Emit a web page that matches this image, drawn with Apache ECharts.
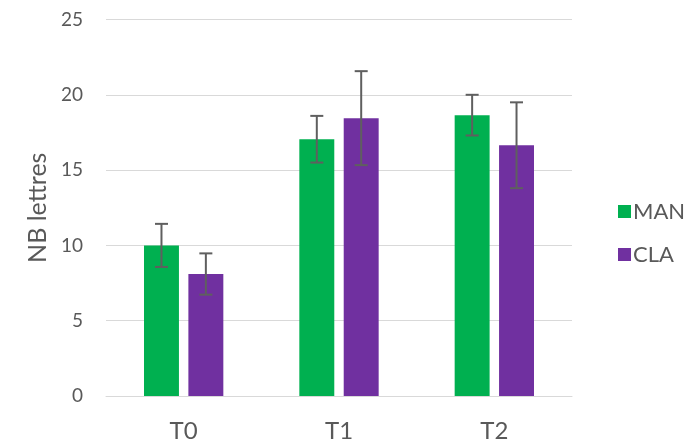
<!DOCTYPE html>
<html><head><meta charset="utf-8">
<script src="https://cdn.jsdelivr.net/npm/echarts@6/dist/echarts.min.js"></script>
<style>html,body{margin:0;padding:0;background:#fff}#c{width:693px;height:446px}</style>
</head><body><div id="c"></div>
<script>
var categories = ['T0', 'T1', 'T2'];
var manValues = [10.0, 17.05, 18.65];
var manErr = [1.43, 1.55, 1.35];
var claValues = [8.1, 18.45, 16.65];
var claErr = [1.37, 3.12, 2.85];
var yTicks = [0, 5, 10, 15, 20, 25];

var FONT = 'Lato';
var TXT = '#595959';
var BAR_W = 0.225, GAP = 0.27;

function errSeries(vals, errs, sign) {
  var data = vals.map(function (v, i) { return [i, v - errs[i], v + errs[i]]; });
  return {
    type: 'custom', silent: true, z: 10,
    data: data,
    encode: { x: 0, y: [1, 2] },
    renderItem: function (params, api) {
      var band = api.size([1, 0])[0];
      var off = sign * band * (BAR_W + BAR_W * GAP) / 2;
      var lo = api.coord([api.value(0), api.value(1)]);
      var hi = api.coord([api.value(0), api.value(2)]);
      var x = lo[0] + off, hw = 6.5;
      var st = { stroke: '#5f5f5f', lineWidth: 2 };
      return { type: 'group', children: [
        { type: 'line', shape: { x1: x, y1: lo[1], x2: x, y2: hi[1] }, style: st },
        { type: 'line', shape: { x1: x - hw, y1: lo[1], x2: x + hw, y2: lo[1] }, style: st },
        { type: 'line', shape: { x1: x - hw, y1: hi[1], x2: x + hw, y2: hi[1] }, style: st }
      ]};
    }
  };
}

var chart = echarts.init(document.getElementById('c'), null, { renderer: 'canvas' });
chart.setOption({
  animation: false,
  textStyle: { fontFamily: FONT },
  grid: { left: 106, right: 121, top: 19.5, bottom: 50, containLabel: false },
  legend: {
    orient: 'vertical', left: 613, top: 195.5,
    itemWidth: 13, itemHeight: 13, itemGap: 21,
    icon: 'rect',
    textStyle: { fontFamily: FONT, fontSize: 22, color: TXT, padding: [0, 0, 0, -3] },
    data: ['MAN', 'CLA']
  },
  xAxis: {
    type: 'category', data: categories,
    axisLine: { lineStyle: { color: '#d9d9d9', width: 1 } },
    axisTick: { show: false },
    axisLabel: { fontFamily: FONT, fontSize: 24, color: TXT, margin: 23 }
  },
  yAxis: {
    type: 'value', min: yTicks[0], max: yTicks[yTicks.length - 1], interval: 5,
    name: 'NB lettres', nameLocation: 'middle', nameGap: 56, nameRotate: 90,
    nameTextStyle: { fontFamily: FONT, fontSize: 25, color: TXT },
    axisLine: { show: false }, axisTick: { show: false },
    axisLabel: { fontFamily: FONT, fontSize: 19, color: TXT, margin: 23 },
    splitLine: { lineStyle: { color: '#d9d9d9', width: 1 } }
  },
  series: [
    { name: 'MAN', type: 'bar', data: manValues, barWidth: (BAR_W * 100) + '%', barGap: (GAP * 100) + '%', itemStyle: { color: '#00B050' } },
    { name: 'CLA', type: 'bar', data: claValues, barWidth: (BAR_W * 100) + '%', barGap: (GAP * 100) + '%', itemStyle: { color: '#7030A0' } },
    errSeries(manValues, manErr, -1),
    errSeries(claValues, claErr, 1)
  ]
});
</script></body></html>
